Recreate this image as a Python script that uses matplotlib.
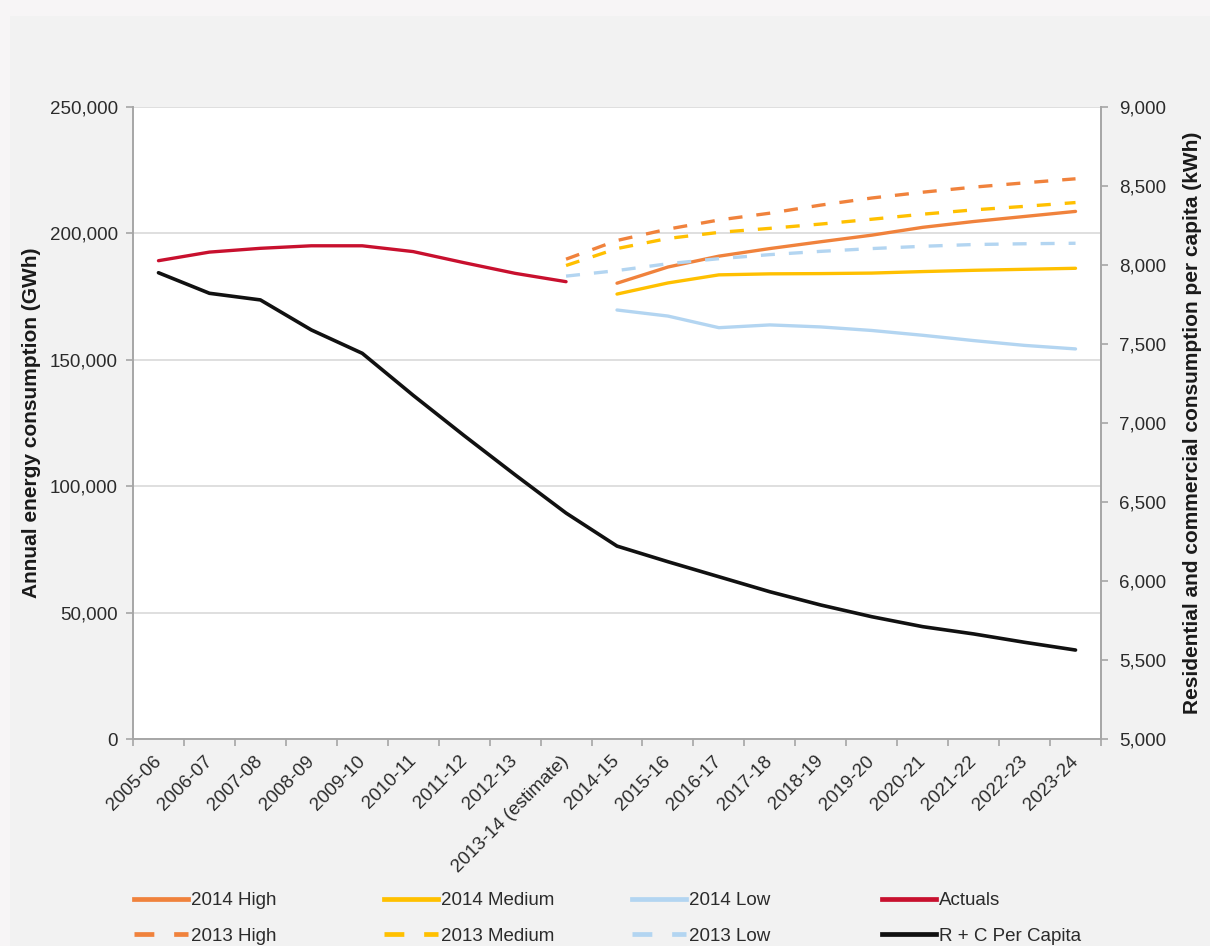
import numpy as np
import matplotlib
matplotlib.use("Agg")
import matplotlib.pyplot as plt
from matplotlib.lines import Line2D
from matplotlib.patches import Rectangle
from matplotlib.ticker import FuncFormatter, FixedLocator

plt.rcParams['font.family'] = ['Liberation Sans', 'DejaVu Sans']

nan = np.nan
categories = ["2005-06", "2006-07", "2007-08", "2008-09", "2009-10", "2010-11",
              "2011-12", "2012-13", "2013-14 (estimate)", "2014-15", "2015-16",
              "2016-17", "2017-18", "2018-19", "2019-20", "2020-21", "2021-22",
              "2022-23", "2023-24"]

actuals = [189200, 192600, 194100, 195100, 195100, 192800, 188400, 184200, 180900,
           nan, nan, nan, nan, nan, nan, nan, nan, nan, nan]

high_2014 = [nan] * 9 + [180300, 186700, 191000, 194000, 196700, 199300, 202400,
                         204700, 206700, 208700]
medium_2014 = [nan] * 9 + [176000, 180400, 183600, 184000, 184100, 184300, 184900,
                           185400, 185800, 186200]
low_2014 = [nan] * 9 + [169700, 167300, 162700, 163800, 163000, 161600, 159700,
                        157600, 155700, 154300]

high_2013 = [nan] * 8 + [189800, 197200, 201700, 205300, 208000, 211200, 214000,
                         216300, 218300, 220000, 221600]
medium_2013 = [nan] * 8 + [187300, 194000, 198000, 200400, 202000, 203700, 205600,
                           207600, 209300, 210700, 212200]
low_2013 = [nan] * 8 + [183100, 185300, 188000, 190000, 191600, 192900, 194000,
                        194900, 195600, 195900, 196100]

per_capita = [7951, 7821, 7779, 7589, 7441, 7175, 6920, 6672, 6430, 6221, 6122,
              6027, 5932, 5848, 5774, 5711, 5665, 5612, 5563]

left_ticks = [0, 50000, 100000, 150000, 200000, 250000]
right_ticks = [5000, 5500, 6000, 6500, 7000, 7500, 8000, 8500, 9000]

C_ORANGE = '#f0823c'
C_YELLOW = '#ffc000'
C_BLUE = '#b3d5f1'
C_RED = '#c8102e'
C_BLACK = '#111111'
LW = 2.4
DASH = (0, (4.2, 4.2))
TXT = '#2b2b2b'
AXC = '#a6a6a6'
FS = 13.5

W, H = 1210, 946
fig = plt.figure(figsize=(W / 100, H / 100), dpi=100)
fig.patch.set_facecolor('#f2f2f2')
fig.patches.append(Rectangle((0, 1 - 16 / H), 1, 16 / H, transform=fig.transFigure,
                             facecolor='#f7f5f6', edgecolor='none', zorder=-5))
fig.patches.append(Rectangle((0, 0), 10 / W, 1, transform=fig.transFigure,
                             facecolor='#f7f5f6', edgecolor='none', zorder=-5))

left, right, top, bottom = 133 / W, 1101 / W, 1 - 107 / H, 1 - 739 / H
ax = fig.add_axes([left, bottom, right - left, top - bottom])
ax.set_facecolor('white')
x = np.arange(len(categories))

ax.plot(x, high_2014, color=C_ORANGE, lw=LW, solid_capstyle='round', zorder=3)
ax.plot(x, medium_2014, color=C_YELLOW, lw=LW, solid_capstyle='round', zorder=3)
ax.plot(x, low_2014, color=C_BLUE, lw=LW, solid_capstyle='round', zorder=3)
ax.plot(x, actuals, color=C_RED, lw=LW, solid_capstyle='round', zorder=3)
ax.plot(x, high_2013, color=C_ORANGE, lw=LW, linestyle=DASH, zorder=3)
ax.plot(x, medium_2013, color=C_YELLOW, lw=LW, linestyle=DASH, zorder=3)
ax.plot(x, low_2013, color=C_BLUE, lw=LW, linestyle=DASH, zorder=3)

ax.set_xlim(-0.5, len(categories) - 0.5)
ax.set_ylim(0, 250000)
ax.set_yticks(left_ticks)
ax.yaxis.set_major_formatter(FuncFormatter(lambda v, p: f"{int(v):,}"))
ax.grid(axis='y', color='#d9d9d9', lw=1.2)
ax.set_axisbelow(True)
ax.set_xticks(x)
ax.set_xticklabels(categories, rotation=45, ha='right', va='center',
                   rotation_mode='anchor')
ax.xaxis.set_minor_locator(FixedLocator(np.arange(-0.5, len(categories), 1.0)))
ax.tick_params(axis='x', which='major', length=0, pad=14, labelsize=FS, labelcolor=TXT)
ax.tick_params(axis='x', which='minor', length=5, width=1.2, color=AXC)
ax.tick_params(axis='y', length=5, width=1.2, color=AXC, labelsize=FS,
               labelcolor=TXT, pad=6)
for s in ['top', 'right']:
    ax.spines[s].set_visible(False)
for s in ['left', 'bottom']:
    ax.spines[s].set_color(AXC)
    ax.spines[s].set_linewidth(1.4)
ax.set_ylabel('Annual energy consumption (GWh)', fontsize=15, fontweight='bold',
              color='#1a1a1a', labelpad=6)

ax2 = ax.twinx()
ax2.plot(x, per_capita, color=C_BLACK, lw=LW + 0.2, solid_capstyle='round', zorder=4)
ax2.set_ylim(5000, 9000)
ax2.set_yticks(right_ticks)
ax2.yaxis.set_major_formatter(FuncFormatter(lambda v, p: f"{int(v):,}"))
ax2.tick_params(axis='y', length=5, width=1.2, color=AXC, labelsize=FS,
                labelcolor=TXT, pad=8)
for s in ['top', 'left', 'bottom']:
    ax2.spines[s].set_visible(False)
ax2.spines['right'].set_color(AXC)
ax2.spines['right'].set_linewidth(1.4)
ax2.set_ylabel('Residential and commercial consumption per capita (kWh)',
               fontsize=15, fontweight='bold', color='#1a1a1a', labelpad=12)

legend_cols = [
    [("2014 High", C_ORANGE, '-'), ("2013 High", C_ORANGE, DASH)],
    [("2014 Medium", C_YELLOW, '-'), ("2013 Medium", C_YELLOW, DASH)],
    [("2014 Low", C_BLUE, '-'), ("2013 Low", C_BLUE, DASH)],
    [("Actuals", C_RED, '-'), ("R + C Per Capita", C_BLACK, '-')],
]
col_x = [134, 384, 632, 882]
for cx, items in zip(col_x, legend_cols):
    handles = [Line2D([], [], color=c, lw=LW + 1.0, linestyle=ls) for _, c, ls in items]
    labels = [t for t, _, _ in items]
    leg = fig.legend(handles, labels, loc='upper left',
                     bbox_to_anchor=(cx / W, 1 - 892 / H), frameon=False,
                     fontsize=FS, handlelength=2.9, handletextpad=0.15,
                     labelspacing=1.0, borderpad=0, borderaxespad=0)
    for t in leg.get_texts():
        t.set_color(TXT)

fig.savefig('out.png', dpi=100, facecolor=fig.get_facecolor())
